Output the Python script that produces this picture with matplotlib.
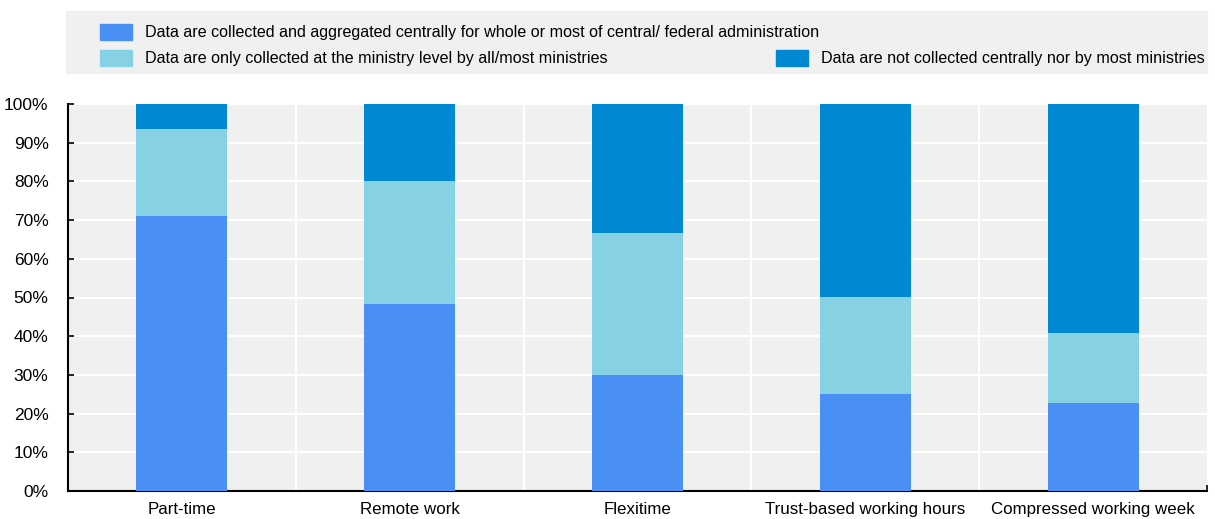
import matplotlib
matplotlib.use("Agg")
import matplotlib.pyplot as plt
from matplotlib.patches import Rectangle
import numpy as np

plt.rcParams['font.family'] = ['Liberation Sans', 'DejaVu Sans']

categories = ["Part-time", "Remote work", "Flexitime", "Trust-based working hours", "Compressed working week"]
series_names = [
    "Data are collected and aggregated centrally for whole or most of central/ federal administration",
    "Data are only collected at the ministry level by all/most ministries",
    "Data are not collected centrally nor by most ministries",
]
central = [71.0, 48.4, 30.0, 25.0, 22.7]
ministry = [22.5, 31.6, 36.7, 25.0, 18.2]
not_collected = [6.5, 20.0, 33.3, 50.0, 59.1]
colors = ["#4a90f4", "#86d1e4", "#0088d2"]

W, H = 1215, 519
fig = plt.figure(figsize=(W / 100, H / 100), dpi=100)
ax = fig.add_axes([68 / W, 1 - 491 / H, (1207 - 68) / W, (491 - 104) / H])
ax.set_facecolor("#f0f0f0")

x = np.arange(len(categories))
bottom = np.zeros(len(categories))
for vals, col in zip([central, ministry, not_collected], colors):
    ax.bar(x, vals, width=0.4, bottom=bottom, color=col, zorder=3)
    bottom += np.array(vals)

ax.set_xlim(-0.5, len(categories) - 0.5)
ax.set_ylim(0, 100)
ax.set_yticks(np.arange(0, 101, 10))
ax.set_yticklabels([f"{v}%" for v in range(0, 101, 10)], fontsize=12.5)
ax.set_xticks(x)
ax.set_xticklabels(categories, fontsize=12.2)
ax.tick_params(axis="x", length=0, pad=8)
ax.tick_params(axis="y", direction="in", length=4, width=1.2, pad=14)

# category separators
for b in np.arange(0.5, len(categories) - 0.5, 1):
    ax.axvline(b, color="white", lw=1.5, zorder=1)
ax.set_xticks(np.arange(-0.5, len(categories), 1), minor=True)
ax.tick_params(axis="x", which="minor", direction="in", length=4, width=1.2)
ax.yaxis.grid(True, color="white", lw=1.5, zorder=1)
ax.set_axisbelow(True)

for s in ["top", "right"]:
    ax.spines[s].set_visible(False)
for s in ["left", "bottom"]:
    ax.spines[s].set_linewidth(1.5)
    ax.spines[s].set_color("black")

# legend panel
fig.patches.append(Rectangle((66 / W, 1 - 73 / H), (1207 - 66) / W, 62 / H,
                             transform=fig.transFigure, color="#f0f0f0", zorder=0))
entries = [(100, 32), (100, 58), (776, 58)]
for (px, py), name, col in zip(entries, series_names, colors):
    fig.patches.append(Rectangle((px / W, 1 - (py + 8) / H), 32 / W, 16 / H,
                                 transform=fig.transFigure, color=col, zorder=1))
    fig.text((px + 45) / W, 1 - py / H, name, fontsize=11.6, va="center", ha="left")

fig.savefig("out.png", dpi=100)
